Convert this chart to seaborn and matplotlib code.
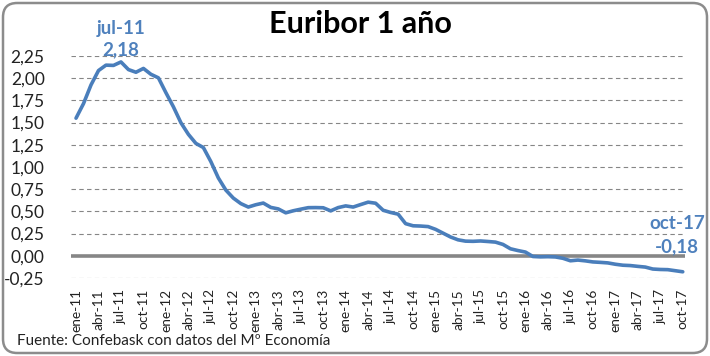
import numpy as np
import pandas as pd
import matplotlib
matplotlib.use("Agg")
import matplotlib.pyplot as plt
import seaborn as sns
from matplotlib.patches import FancyBboxPatch

months = ["ene", "feb", "mar", "abr", "may", "jun", "jul", "ago", "sep", "oct", "nov", "dic"]
years = ["11", "12", "13", "14", "15", "16", "17"]
periods = [f"{m}-{y}" for y in years for m in months][:82]

euribor = [
    1.550, 1.714, 1.924, 2.086, 2.147, 2.144, 2.183, 2.097, 2.067, 2.110, 2.044, 2.004,
    1.837, 1.678, 1.499, 1.368, 1.266, 1.219, 1.061, 0.877, 0.740, 0.650, 0.588, 0.549,
    0.575, 0.594, 0.545, 0.528, 0.484, 0.507, 0.525, 0.542, 0.543, 0.541, 0.506, 0.543,
    0.562, 0.549, 0.577, 0.604, 0.592, 0.513, 0.488, 0.469, 0.362, 0.338, 0.335, 0.329,
    0.298, 0.255, 0.212, 0.180, 0.165, 0.163, 0.167, 0.161, 0.154, 0.128, 0.079, 0.059,
    0.042, -0.008, -0.012, -0.010, -0.013, -0.028, -0.056, -0.048, -0.057, -0.069, -0.074, -0.080,
    -0.095, -0.106, -0.110, -0.119, -0.127, -0.149, -0.154, -0.156, -0.168, -0.180,
]
yticks = [-0.25, 0.0, 0.25, 0.5, 0.75, 1.0, 1.25, 1.5, 1.75, 2.0, 2.25]

df = pd.DataFrame({"idx": np.arange(len(euribor)), "periodo": periods, "valor": euribor})

sns.set_theme(style="white")
plt.rcParams["font.family"] = ["Lato", "DejaVu Sans"]

fig = plt.figure(figsize=(7.10, 3.56), dpi=100)
ax = fig.add_axes([71/710, 1-278/356, (685-71)/710, (278-56)/356])

line_color = "#4A7EBB"
label_color = "#4F81BD"

for v in yticks:
    if v == 0:
        ax.axhline(v, color="#868686", lw=2.6, zorder=1)
    else:
        ax.axhline(v, color="#868686", lw=0.8, ls=(0, (4, 3)), zorder=1)

sns.lineplot(data=df, x="idx", y="valor", ax=ax, color=line_color, lw=2.6, zorder=3)

ax.set_xlim(-0.67, 81.3)
ax.set_ylim(-0.25, 2.25)
ax.set_yticks(yticks)
ax.set_yticklabels([f"{v:.2f}".replace(".", ",") for v in yticks], fontsize=12.5, color="#222222")
tick_idx = list(range(0, len(periods), 3))
ax.set_xticks(tick_idx)
ax.set_xticklabels([periods[i] for i in tick_idx], rotation=90, fontsize=9.8, color="#222222")
ax.tick_params(axis="y", length=0, pad=19)
ax.tick_params(axis="x", length=0, pad=8)
ax.set_xlabel("")
ax.set_ylabel("")
for s in ax.spines.values():
    s.set_visible(False)

# annotations
imax = int(np.argmax(euribor))
ax.annotate(periods[imax], xy=(imax, euribor[imax]), xytext=(0, 18), textcoords="offset points",
            ha="center", va="bottom", fontsize=13.5, fontweight="bold", color=label_color)
ax.annotate(f"{euribor[imax]:.2f}".replace(".", ","), xy=(imax, euribor[imax]), xytext=(0, 3),
            textcoords="offset points", ha="center", va="bottom", fontsize=13.5, fontweight="bold",
            color=label_color)
ilast = len(euribor) - 1
ax.annotate(periods[ilast], xy=(ilast, euribor[ilast]), xytext=(-4, 29), textcoords="offset points",
            ha="center", va="bottom", fontsize=13.5, fontweight="bold", color=label_color)
ax.annotate(f"{euribor[ilast]:.2f}".replace(".", ","), xy=(ilast, euribor[ilast]), xytext=(-4, 12),
            textcoords="offset points", ha="center", va="bottom", fontsize=13.5, fontweight="bold",
            color=label_color)

fig.text(360/710, 1-24/356, "Euribor 1 año", ha="center", va="center", fontsize=22,
         fontweight="bold", color="black")
fig.text(17/710, 1-341/356, "Fuente: Confebask con datos del Mº Economía", ha="left", va="center",
         fontsize=11, color="#222222")

border = FancyBboxPatch((3/710, 3/356), 704/710, 350/356, boxstyle="round,pad=0,rounding_size=0.02",
                        transform=fig.transFigure, fill=False, edgecolor="#8c8c8c", lw=1.8,
                        mutation_aspect=710/356)
fig.patches.append(border)

fig.savefig("out.png", dpi=100)
